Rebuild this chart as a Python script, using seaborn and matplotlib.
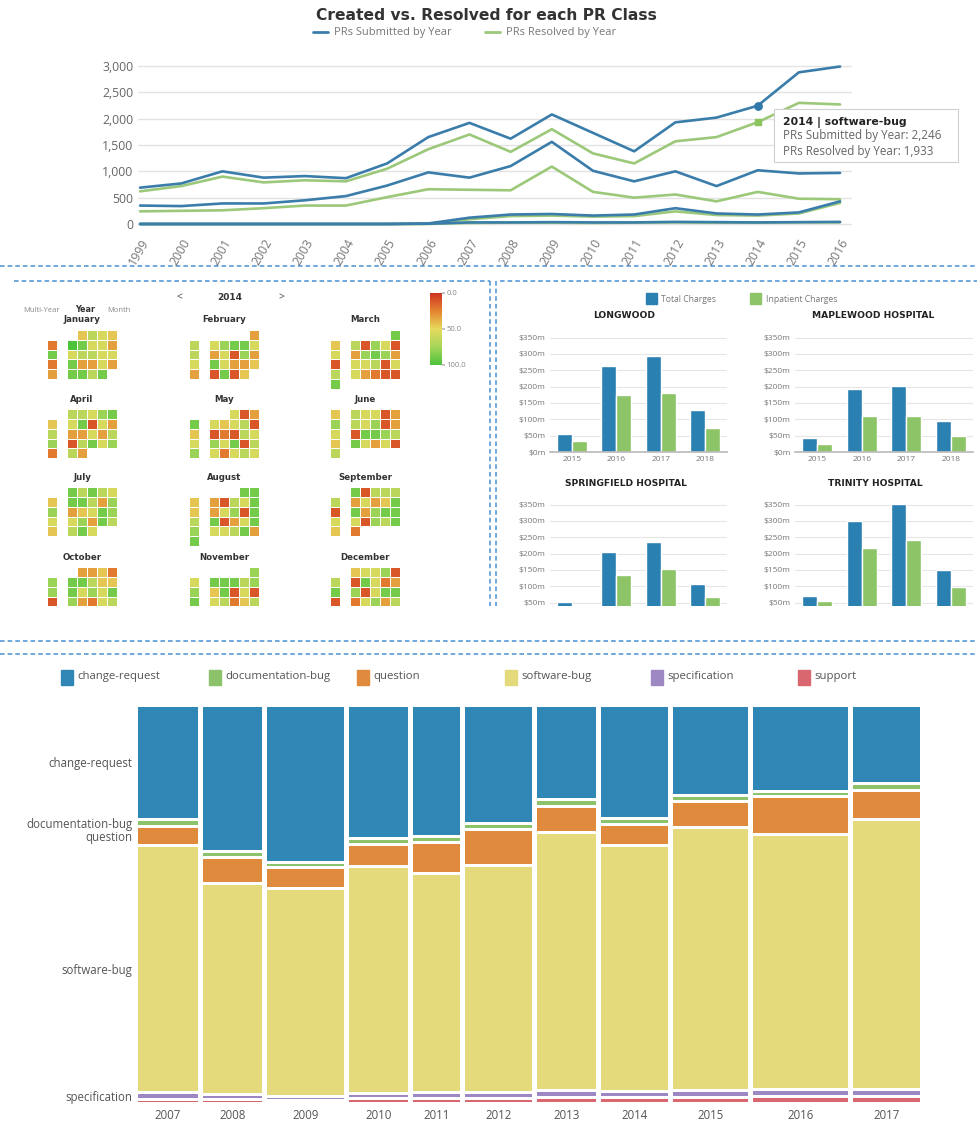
import calendar
import numpy as np
import pandas as pd
import matplotlib
matplotlib.use("Agg")
import matplotlib.pyplot as plt
import seaborn as sns
from matplotlib.patches import Rectangle
from matplotlib.lines import Line2D
from matplotlib.colors import LinearSegmentedColormap, Normalize
from matplotlib.cm import ScalarMappable

sns.set_theme(style="white")
plt.rcParams["font.family"] = ["Open Sans", "DejaVu Sans"]

W, H = 978, 1123

# ---------------- PR counts per class and year (line chart) ----------------
line_years = list(range(1999, 2017))
sw_submitted = [690, 770, 1000, 880, 910, 870, 1150, 1650, 1920, 1620, 2080, 1730, 1380, 1930, 2020, 2246, 2880, 2990]
sw_resolved = [620, 720, 900, 790, 830, 810, 1050, 1420, 1700, 1370, 1800, 1340, 1150, 1570, 1650, 1933, 2300, 2270]
cr_submitted = [350, 340, 390, 390, 450, 530, 730, 980, 880, 1100, 1560, 1010, 810, 1000, 720, 1020, 960, 970]
cr_resolved = [240, 250, 260, 300, 350, 350, 510, 660, 650, 640, 1090, 610, 500, 560, 430, 610, 480, 470]
q_submitted = [0, 0, 0, 0, 0, 0, 0, 10, 120, 180, 190, 160, 180, 300, 200, 180, 220, 430]
q_resolved = [0, 0, 0, 0, 0, 0, 0, 5, 90, 150, 160, 140, 150, 240, 170, 160, 200, 400]
doc_submitted = [0, 0, 0, 0, 0, 0, 0, 5, 30, 30, 35, 30, 30, 40, 35, 30, 35, 40]
doc_resolved = [0, 0, 0, 0, 0, 0, 0, 2, 20, 25, 25, 20, 25, 30, 25, 25, 30, 30]
line_classes = ["software-bug", "change-request", "question", "documentation-bug"]
highlight_year = 2014

# ---------------- daily scores 2014 (calendar heatmap), level 0..9, '.' = none ----------------
calendar_year = 2014
daily_levels = [
    "46542.985538.566552.833533.8868",
    "36.578856.351735.853343.1814",
    "84.617515.378731.556156.532118.",
    "665784.581536.335367.168572.63",
    "5138.545614.121655.758167.52565",
    "4.655137.657135.188764.853516.",
    "868654.886377.345875.573864.685",
    "884.316584.357186.813587.556838",
    ".816666.353481.837885.517684.2",
    "33427.886447.857581.732565.6476",
    "75.888677.481518.562465.374866",
    ".455716.185238.715881.257364.63",
]
month_names = ["January", "February", "March", "April", "May", "June", "July",
               "August", "September", "October", "November", "December"]

# ---------------- hospital charges ($m) ----------------
charge_years = ["2015", "2016", "2017", "2018"]
hospitals = ["LONGWOOD", "MAPLEWOOD HOSPITAL", "SPRINGFIELD HOSPITAL", "TRINITY HOSPITAL"]
total_charges = {
    "LONGWOOD": [56, 263, 293, 128],
    "MAPLEWOOD HOSPITAL": [43, 192, 202, 94],
    "SPRINGFIELD HOSPITAL": [52, 204, 235, 107],
    "TRINITY HOSPITAL": [69, 301, 352, 151],
}
inpatient_charges = {
    "LONGWOOD": [35, 173, 181, 73],
    "MAPLEWOOD HOSPITAL": [23, 111, 111, 50],
    "SPRINGFIELD HOSPITAL": [35, 136, 153, 66],
    "TRINITY HOSPITAL": [54, 216, 243, 97],
}

# ---------------- PR class mix per year (mosaic) ----------------
mosaic_years = ["2007", "2008", "2009", "2010", "2011", "2012", "2013", "2014", "2015", "2016", "2017"]
year_totals = [3000, 2950, 3800, 2950, 2350, 3300, 2950, 3350, 3750, 4700, 3350]
pr_classes = ["change-request", "documentation-bug", "question", "software-bug", "specification", "support"]
change_request_pct = [29.2, 37.6, 40.3, 34.2, 33.7, 30.3, 23.9, 28.9, 22.9, 21.8, 19.7]
documentation_bug_pct = [1.1, 0.8, 0.5, 0.8, 0.8, 0.8, 1.1, 0.8, 0.8, 0.6, 1.1]
question_pct = [4.2, 6.0, 4.7, 5.0, 7.4, 8.7, 6.1, 4.7, 6.0, 9.2, 6.8]
software_bug_pct = [64.2, 54.7, 53.7, 58.7, 56.8, 59.0, 67.1, 64.0, 68.4, 66.3, 70.3]
specification_pct = [1.0, 0.6, 0.3, 0.5, 0.8, 0.7, 0.9, 0.8, 1.1, 1.1, 1.1]
support_pct = [0.3, 0.3, 0.0, 0.5, 0.5, 0.5, 0.9, 0.8, 0.8, 1.0, 1.0]

# ---------------- styling ----------------
BLUE = "#3a7dab"
GREEN = "#9cc87a"
BAR_BLUE = "#2b80b2"
BAR_GREEN = "#8dc467"
CLASS_COLORS = ["#3087b5", "#8cc36a", "#e08a3e", "#e5da7b", "#9d88c3", "#d9676f"]
TXT = "#555555"
DASH = "#4a8fd6"
cal_cmap = LinearSegmentedColormap.from_list(
    "score", [(0, "#cf3323"), (0.25, "#e4832f"), (0.5, "#e6da5c"), (0.75, "#a5d55a"), (1, "#4dc23b")])

fig = plt.figure(figsize=(W / 100, H / 100), dpi=100)
fig.patch.set_facecolor("white")


def px_axes(x0, y0, x1, y1, zorder=0):
    ax = fig.add_axes([x0 / W, 1 - y1 / H, (x1 - x0) / W, (y1 - y0) / H], zorder=zorder)
    ax.set_facecolor("none")
    return ax


def pixel_canvas(zorder):
    ax = fig.add_axes([0, 0, 1, 1], zorder=zorder)
    ax.set_xlim(0, W)
    ax.set_ylim(H, 0)
    ax.axis("off")
    return ax


bg = pixel_canvas(-1)
overlay = pixel_canvas(5)

# ======================= line chart =======================
bg.text(486, 16, "Created vs. Resolved for each PR Class", ha="center", va="center",
        fontsize=11.2, fontweight="bold", color="#333333", family="DejaVu Sans")
bg.add_line(Line2D([313, 328], [32, 32], color=BLUE, lw=2))
bg.text(334, 32, "PRs Submitted by Year", ha="left", va="center", fontsize=8, color="#777777")
bg.add_line(Line2D([485, 500], [32, 32], color=GREEN, lw=2))
bg.text(506, 32, "PRs Resolved by Year", ha="left", va="center", fontsize=8, color="#777777")

series = {
    "software-bug": (sw_submitted, sw_resolved),
    "change-request": (cr_submitted, cr_resolved),
    "question": (q_submitted, q_resolved),
    "documentation-bug": (doc_submitted, doc_resolved),
}
rows = []
for cls in line_classes:
    sub, res = series[cls]
    for yr, s, r in zip(line_years, sub, res):
        rows.append({"year": yr, "cls": cls, "kind": "PRs Resolved by Year", "value": r})
        rows.append({"year": yr, "cls": cls, "kind": "PRs Submitted by Year", "value": s})
df_line = pd.DataFrame(rows)

ax_line = px_axes(138, 60, 852, 228)
sns.lineplot(data=df_line, x="year", y="value", hue="kind", units="cls", estimator=None,
             hue_order=["PRs Resolved by Year", "PRs Submitted by Year"],
             palette={"PRs Submitted by Year": BLUE, "PRs Resolved by Year": GREEN},
             linewidth=1.9, legend=False, ax=ax_line)
hi = line_years.index(highlight_year)
ax_line.scatter([highlight_year], [sw_submitted[hi]], s=28, color="#2f78a8", zorder=5)
ax_line.scatter([highlight_year], [sw_resolved[hi]], s=24, marker="s", color="#8cc45e", zorder=5)
ax_line.set_xlim(1998.95, 2016.29)
ax_line.set_ylim(-76, 3114)
ax_line.set_yticks(range(0, 3001, 500))
ax_line.set_yticklabels([f"{v:,}" for v in range(0, 3001, 500)])
ax_line.set_xticks(line_years)
ax_line.set_xticklabels([str(y) for y in line_years], rotation=60, ha="right",
                        rotation_mode="anchor")
ax_line.yaxis.grid(True, color="#e3e3e3", lw=1)
ax_line.xaxis.grid(False)
for s in ax_line.spines.values():
    s.set_visible(False)
ax_line.tick_params(length=0, labelsize=8.8, labelcolor="#666666")
ax_line.tick_params(axis="x", pad=6, labelcolor="#777777")
ax_line.set_xlabel("")
ax_line.set_ylabel("")

# hover box, drawn above the lines
overlay.add_patch(Rectangle((774, 109), 184, 53, facecolor="white", edgecolor="#d0d0d0", lw=0.8))
overlay.text(783, 122, f"{highlight_year} | software-bug", fontsize=7.8, fontweight="bold",
             color="#222222", va="center", family="DejaVu Sans")
overlay.text(783, 136, f"PRs Submitted by Year: {sw_submitted[hi]:,}", fontsize=8.4,
             color="#666666", va="center")
overlay.text(783, 151, f"PRs Resolved by Year: {sw_resolved[hi]:,}", fontsize=8.4,
             color="#666666", va="center")

# ======================= separators =======================
dash_kw = dict(color=DASH, lw=1.1, ls=(0, (3, 2)))
bg.add_line(Line2D([0, W], [266, 266], **dash_kw))
bg.add_line(Line2D([14, 490], [281, 281], **dash_kw))
bg.add_line(Line2D([500, W], [281, 281], **dash_kw))
bg.add_line(Line2D([490, 490], [281, 606], **dash_kw))
bg.add_line(Line2D([496, 496], [281, 606], **dash_kw))
bg.add_line(Line2D([0, W], [641, 641], **dash_kw))
bg.add_line(Line2D([0, W], [654, 654], **dash_kw))

# ======================= calendar heatmaps =======================
bg.text(179, 298, "<", fontsize=7.5, color="#444444", ha="center", va="center")
bg.text(230, 298, str(calendar_year), fontsize=6.5, fontweight="bold", color="#333333",
        ha="center", va="center", family="DejaVu Sans")
bg.text(281, 298, ">", fontsize=7.5, color="#444444", ha="center", va="center")
bg.text(42, 310, "Multi-Year", fontsize=5.5, color="#888888", ha="center", va="center")
bg.text(85, 310, "Year", fontsize=5.8, fontweight="bold", color="#333333", ha="center",
        va="center", family="DejaVu Sans")
bg.text(119, 310, "Month", fontsize=5.5, color="#888888", ha="center", va="center")

cal = calendar.Calendar(firstweekday=6)
grid_left = [47, 189, 330]
grid_top = [330, 409, 487, 567]
for m in range(12):
    weeks = cal.monthdayscalendar(calendar_year, m + 1)
    mat = np.full((6, 7), np.nan)
    levels = daily_levels[m]
    for r, week in enumerate(weeks):
        for c, day in enumerate(week):
            if day and levels[day - 1] != ".":
                mat[r, c] = int(levels[day - 1]) * 100 / 9
    x0 = grid_left[m % 3]
    y0 = grid_top[m // 3]
    ax_c = px_axes(x0, y0, x0 + 70, y0 + 59)
    sns.heatmap(mat, ax=ax_c, cmap=cal_cmap, vmin=0, vmax=100, cbar=False,
                linewidths=0.4, linecolor="white", xticklabels=False, yticklabels=False)
    ax_c.set_xlim(0, 7)
    ax_c.set_ylim(6, 0)
    bg.text(x0 + 35, y0 - 10, month_names[m], fontsize=6.2, fontweight="bold",
            color="#333333", ha="center", va="center", family="DejaVu Sans")

ax_cb = px_axes(430, 293, 442, 365)
cb = fig.colorbar(ScalarMappable(norm=Normalize(0, 100), cmap=cal_cmap), cax=ax_cb)
cb.outline.set_visible(False)
ax_cb.invert_yaxis()
cb.set_ticks([0, 50, 100])
cb.set_ticklabels(["0.0", "50.0", "100.0"])
ax_cb.tick_params(labelsize=5.5, labelcolor="#888888", length=2, color="#bbbbbb", pad=1)

# ======================= hospital bar charts =======================
bg.add_patch(Rectangle((646, 293), 11, 11, color=BAR_BLUE))
bg.text(661, 299, "Total Charges", fontsize=6.2, color="#777777", va="center")
bg.add_patch(Rectangle((750, 293), 11, 11, color=BAR_GREEN))
bg.text(766, 299, "Inpatient Charges", fontsize=6.2, color="#777777", va="center")

bar_boxes = [(550, 337, 727, 452), (795, 337, 973, 452), (550, 504, 727, 619), (795, 504, 973, 619)]
title_pos = [(624, 316), (873, 316), (626, 483), (875, 483)]
for name, box, tpos in zip(hospitals, bar_boxes, title_pos):
    d = pd.DataFrame({
        "year": charge_years * 2,
        "kind": ["Total Charges"] * 4 + ["Inpatient Charges"] * 4,
        "value": total_charges[name] + inpatient_charges[name],
    })
    ax_b = px_axes(*box)
    sns.barplot(data=d, x="year", y="value", hue="kind", width=0.68, saturation=1,
                palette={"Total Charges": BAR_BLUE, "Inpatient Charges": BAR_GREEN},
                legend=False, ax=ax_b)
    ax_b.set_ylim(0, 352)
    ax_b.set_yticks(range(0, 351, 50))
    ax_b.set_yticklabels([f"${v}m" for v in range(0, 351, 50)])
    ax_b.yaxis.grid(True, color="#e6e6e6", lw=0.8)
    ax_b.set_axisbelow(True)
    for s in ["left", "top", "right"]:
        ax_b.spines[s].set_visible(False)
    ax_b.spines["bottom"].set_color("#bbbbbb")
    ax_b.tick_params(length=0, labelsize=6, labelcolor="#777777", pad=3)
    ax_b.set_xlabel("")
    ax_b.set_ylabel("")
    bg.text(tpos[0], tpos[1], name, fontsize=6.6, fontweight="bold", color="#222222",
            ha="center", va="center", family="DejaVu Sans")

# the dashboard panel is scrolled: hide whatever lies below its frame
fig.add_artist(Rectangle((0, 1 - 639 / H), 1, (639 - 606) / H, transform=fig.transFigure,
                         facecolor="white", edgecolor="none", zorder=10))

# ======================= mosaic of PR classes =======================
legend_x = [61, 209, 357, 505, 651, 798]
for col, x, cls in zip(CLASS_COLORS, legend_x, pr_classes):
    bg.add_patch(Rectangle((x, 670), 12, 15, color=col))
    bg.text(x + 16, 677, cls, fontsize=8.2, color=TXT, va="center")

pct = np.array([change_request_pct, documentation_bug_pct, question_pct,
                software_bug_pct, specification_pct, support_pct])
totals = np.array(year_totals, dtype=float)
n = len(mosaic_years)
x_gap = 5 / 782
widths = totals / totals.sum() * (1 - x_gap * (n - 1))
lefts = np.concatenate([[0], np.cumsum(widths + x_gap)[:-1]])
y_gap = 3 / 395

ax_m = px_axes(138, 707, 920, 1102)
first_centers = []
for j in range(n):
    shares = pct[:, j] / pct[:, j].sum() * (1 - y_gap * (len(pr_classes) - 1))
    top = 0.0
    for i in range(len(pr_classes)):
        ax_m.bar(lefts[j], shares[i], width=widths[j], bottom=top, align="edge",
                 color=CLASS_COLORS[i], linewidth=0)
        if j == 0:
            first_centers.append(top + shares[i] / 2)
        top += shares[i] + y_gap
ax_m.set_xlim(0, 1)
ax_m.set_ylim(1, 0)
ax_m.set_xticks(lefts + widths / 2)
ax_m.set_xticklabels(mosaic_years)
ax_m.set_yticks(first_centers[:5])
ax_m.set_yticklabels(pr_classes[:5])
for s in ax_m.spines.values():
    s.set_visible(False)
ax_m.tick_params(length=0, labelsize=8.3, labelcolor=TXT)
ax_m.tick_params(axis="x", pad=5)
ax_m.tick_params(axis="y", pad=4)

fig.savefig("out.png", dpi=100, facecolor="white")
